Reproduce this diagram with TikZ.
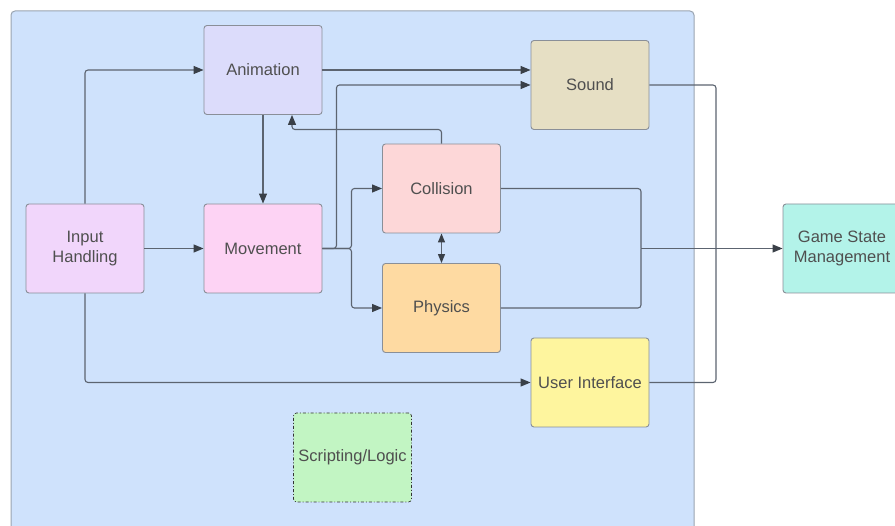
\documentclass[tikz,border=0pt]{standalone}
\usepackage{fontspec}
\setmainfont{Liberation Sans}
\usetikzlibrary{arrows.meta}
\definecolor{bgblue}{HTML}{CFE2FC}
\definecolor{bgborder}{HTML}{9AA4B0}
\definecolor{cAnim}{HTML}{DCDCFB}
\definecolor{cInput}{HTML}{F1D6FB}
\definecolor{cMove}{HTML}{FDD3F4}
\definecolor{cColl}{HTML}{FDD7D8}
\definecolor{cPhys}{HTML}{FEDAA2}
\definecolor{cSound}{HTML}{E6DFC4}
\definecolor{cUI}{HTML}{FEF59E}
\definecolor{cScript}{HTML}{C2F5C3}
\definecolor{cGSM}{HTML}{B3F3E9}
\definecolor{linec}{HTML}{5C6470}
\definecolor{headc}{HTML}{3A4048}
\definecolor{boxborder}{HTML}{8A8F98}
\definecolor{txt}{HTML}{4F4F4F}
\tikzset{
  blk/.style={draw=boxborder, line width=0.9pt, rounded corners=3pt, minimum width=118pt, minimum height=89pt,
    align=center, text=txt, font=\fontsize{16.5}{20}\selectfont, inner sep=2pt},
  conn/.style={draw=linec, line width=1.1pt, rounded corners=3pt},
  arr/.style={conn, -{Triangle[length=10pt,width=8pt,fill=headc,color=headc]}},
  darr/.style={conn, {Triangle[length=9pt,width=7pt,fill=headc,color=headc]}-{Triangle[length=9pt,width=7pt,fill=headc,color=headc]}}
}
\begin{document}
\begin{tikzpicture}[x=1pt,y=-1pt]
\useasboundingbox (0,0) rectangle (895,526);
\begin{scope}
\clip (0,0) rectangle (895,526);
\draw[fill=bgblue, draw=bgborder, line width=1pt, rounded corners=4pt] (11,11) rectangle (694,560);
\node[blk, fill=cAnim] (anim) at (263,70) {Animation};
\node[blk, fill=cInput] (inp) at (85,248.5) {Input\\Handling};
\node[blk, fill=cMove] (mov) at (263,248.5) {Movement};
\node[blk, fill=cColl] (col) at (441.5,188.5) {Collision};
\node[blk, fill=cPhys] (phy) at (441.5,308) {Physics};
\node[blk, fill=cSound] (snd) at (590,85) {Sound};
\node[blk, fill=cUI] (ui) at (590,382.5) {User Interface};
\node[blk, fill=cScript, draw=black!80, dash dot, line width=0.7pt] (scr) at (352.5,457.5) {Scripting/Logic};
\node[blk, fill=cGSM] (gsm) at (842,248.5) {Game State\\Management};
\coordinate (j) at (641,248.5);
\coordinate (k) at (716,248.5);
\draw[arr] (inp.north) |- (anim.west);
\draw[arr] (inp.east) -- (mov.west);
\draw[arr] (inp.south) |- (ui.west);
\draw[arr] (anim.south) -- (mov.north);
\draw[arr] (anim.east) -- (anim.east -| snd.west);
\draw[arr] (mov.east) -- ++(14,0) |- (snd.west);
\draw[arr] (mov.east) -- ++(29,0) |- (col.west);
\draw[arr] (mov.east) -- ++(29,0) |- (phy.west);
\draw[arr] (col.north) -- ++(0,-14) -| ([xshift=29pt]anim.south);
\draw[darr] (col.south) -- (phy.north);
\draw[conn] (col.east) -| (j);
\draw[conn] (phy.east) -| (j);
\draw[conn] (snd.east) -| (k);
\draw[conn] (ui.east) -| (k);
\draw[arr] (j) -- (gsm.west);
\end{scope}
\end{tikzpicture}
\end{document}
